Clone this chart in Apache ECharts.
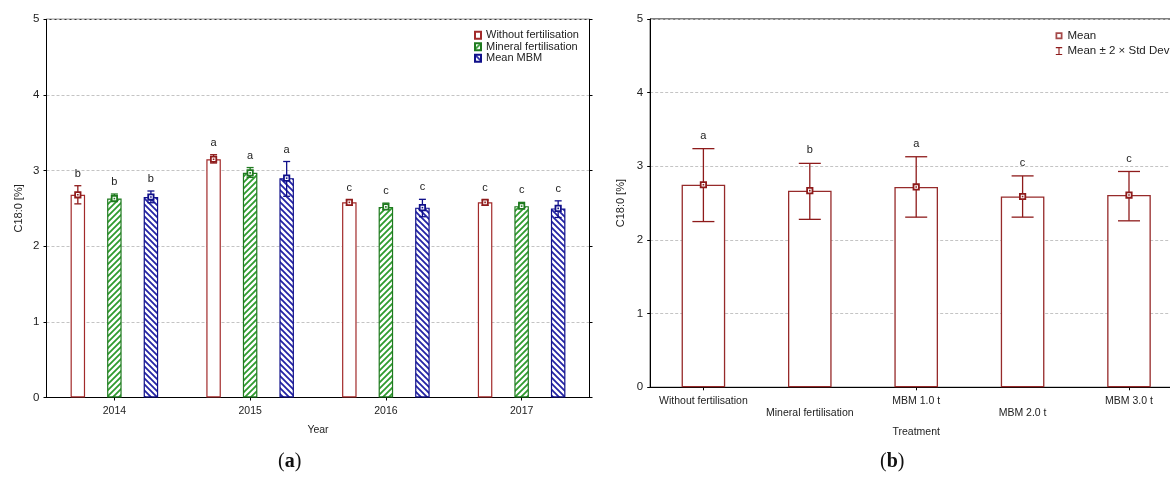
<!DOCTYPE html>
<html>
<head>
<meta charset="utf-8">
<script src="https://cdn.jsdelivr.net/npm/echarts@6/dist/echarts.min.js"></script>
<style>
  html, body { margin: 0; padding: 0; background: #fff; overflow: hidden; }
  #chart { width: 1200px; height: 477px; }
</style>
</head>
<body>
<div id="chart"></div>
<script>
// ---- Panel (a): C18:0 by year and fertilisation ----
const years = ['2014', '2015', '2016', '2017'];
const withoutMean = [2.68, 3.15, 2.58, 2.58];
const withoutLow  = [2.56, 3.10, 2.54, 2.54];
const withoutHigh = [2.80, 3.21, 2.61, 2.61];
const mineralMean = [2.63, 2.97, 2.52, 2.53];
const mineralLow  = [2.60, 2.91, 2.49, 2.51];
const mineralHigh = [2.69, 3.04, 2.57, 2.58];
const mbmMean = [2.65, 2.90, 2.51, 2.50];
const mbmLow  = [2.575, 2.66, 2.39, 2.38];
const mbmHigh = [2.73, 3.12, 2.62, 2.60];
const yearLetters = ['b', 'a', 'c', 'c'];

// ---- Panel (b): C18:0 by treatment ----
const treatments = ['Without fertilisation', 'Mineral fertilisation', 'MBM 1.0 t', 'MBM 2.0 t', 'MBM 3.0 t'];
const treatMean = [2.75, 2.67, 2.72, 2.59, 2.61];
const treatLow  = [2.25, 2.28, 2.31, 2.31, 2.26];
const treatHigh = [3.24, 3.04, 3.13, 2.87, 2.93];
const treatLetters = ['a', 'b', 'a', 'c', 'c'];

// shared value axis
const yMin = 0, yMax = 5, yStep = 1;

const FONT = '"Liberation Sans", Arial, sans-serif';
const RED = '#8e1b1b', GREEN = '#1f7a1f', BLUE = '#10108a';
const BAR_W_A = 14.5, BAR_GAP_A = 1.52;
const SLOT_A = BAR_W_A * (1 + BAR_GAP_A);

function hatch(color, dir) {
  const s = 6;
  const c = document.createElement('canvas');
  c.width = s; c.height = s;
  const g = c.getContext('2d');
  g.fillStyle = '#ffffff';
  g.fillRect(0, 0, s, s);
  g.strokeStyle = color;
  g.lineWidth = 1.8;
  g.beginPath();
  if (dir > 0) {
    g.moveTo(-1, s + 1); g.lineTo(s + 1, -1);
    g.moveTo(-1, 1); g.lineTo(1, -1);
    g.moveTo(s - 1, s + 1); g.lineTo(s + 1, s - 1);
  } else {
    g.moveTo(-1, -1); g.lineTo(s + 1, s + 1);
    g.moveTo(s - 1, -1); g.lineTo(s + 1, 1);
    g.moveTo(-1, s - 1); g.lineTo(1, s + 1);
  }
  g.stroke();
  return c;
}

// error bar + mean marker + letter, drawn on top of the bars
function errorLayer(name, gridIdx, mean, low, high, letters, color, offset, capHalf, letterGap, legendName) {
  return {
    type: 'custom',
    name: legendName || name,
    xAxisIndex: gridIdx * 2,
    yAxisIndex: gridIdx * 2,
    z: 5,
    itemStyle: { color: color },
    encode: { x: 0, y: [1, 2, 3] },
    data: mean.map((m, i) => [i, m, low[i], high[i], letters[i]]),
    renderItem: function (params, api) {
      const i = api.value(0);
      const pm = api.coord([i, api.value(1)]);
      const x = pm[0] + offset;
      const ym = pm[1];
      const yl = api.coord([i, api.value(2)])[1];
      const yh = api.coord([i, api.value(3)])[1];
      const line = { stroke: color, lineWidth: 1.3 };
      return {
        type: 'group',
        children: [
          { type: 'line', shape: { x1: x, y1: yl, x2: x, y2: yh }, style: line },
          { type: 'line', shape: { x1: x - capHalf, y1: yh, x2: x + capHalf, y2: yh }, style: line },
          { type: 'line', shape: { x1: x - capHalf, y1: yl, x2: x + capHalf, y2: yl }, style: line },
          { type: 'rect', shape: { x: x - 2.7, y: ym - 2.7, width: 5.4, height: 5.4 },
            style: { fill: '#ffffff', stroke: color, lineWidth: 1.8 } },
          { type: 'rect', shape: { x: x - 0.8, y: ym - 0.8, width: 1.6, height: 1.6 },
            style: { fill: color } },
          { type: 'text', x: x, y: yh - letterGap,
            style: { text: api.value(4), fill: '#222', font: '11px ' + FONT,
                     align: 'center', verticalAlign: 'middle' } }
        ]
      };
    }
  };
}

function valueAxes(gridIdx) {
  const common = { type: 'value', gridIndex: gridIdx, min: yMin, max: yMax, interval: yStep };
  return [
    Object.assign({}, common, {
      position: 'left',
      name: 'C18:0 [%]',
      nameLocation: 'middle',
      nameRotate: 90,
      nameGap: gridIdx === 0 ? 22 : 23.5,
      nameTextStyle: { fontFamily: FONT, fontSize: 11, color: '#222' },
      axisLine: { show: true, lineStyle: { color: '#000', width: 1 } },
      axisTick: { show: true, length: 3, lineStyle: { color: '#000' } },
      axisLabel: { fontFamily: FONT, fontSize: 11.5, color: '#222', margin: 7 },
      splitLine: { show: true, lineStyle: { color: '#c4c4c4', type: [3, 2], width: 1 } }
    }),
    Object.assign({}, common, {
      position: 'right',
      axisLine: { show: true, lineStyle: { color: '#000', width: 1 } },
      axisTick: { show: true, length: 3, lineStyle: { color: '#000' } },
      axisLabel: { show: false },
      splitLine: { show: false }
    })
  ];
}

function categoryAxes(gridIdx, cats, name, nameGap, staggered) {
  return [
    {
      type: 'category', gridIndex: gridIdx, data: cats, position: 'bottom',
      name: name, nameLocation: 'middle', nameGap: nameGap,
      nameTextStyle: { fontFamily: FONT, fontSize: 10.5, color: '#222' },
      axisLine: { show: true, lineStyle: { color: '#000', width: 1 } },
      axisTick: { show: true, inside: true, length: 3, alignWithLabel: true, lineStyle: { color: '#000' } },
      axisLabel: {
        interval: 0, fontFamily: FONT, fontSize: 10.5, color: '#222', margin: 7.5, lineHeight: 12.5,
        formatter: staggered ? function (v, i) { return i % 2 ? '\n' + v : v; } : '{value}'
      },
      splitLine: { show: false }
    },
    {
      type: 'category', gridIndex: gridIdx, data: cats, position: 'top',
      axisLine: { show: true, lineStyle: { color: '#000', width: 1 } },
      axisTick: { show: true, inside: true, length: 3, alignWithLabel: true, lineStyle: { color: '#000' } },
      axisLabel: { show: false },
      splitLine: { show: false }
    }
  ];
}

const greenHatch = hatch('#2f9b2f', 1);
const blueHatch = hatch('#2424a6', -1);

const barA = (name, values, fill, border) => ({
  type: 'bar', name: name, xAxisIndex: 0, yAxisIndex: 0,
  barWidth: BAR_W_A, barGap: (BAR_GAP_A * 100) + '%',
  itemStyle: { color: fill, borderColor: border, borderWidth: 1.2 },
  data: values
});

const serif = '"Liberation Serif", "DejaVu Serif", serif';
const panelTag = (letter, cx) => ({
  type: 'text', left: cx - 13, top: 452,
  style: {
    text: '{p|(}{b|' + letter + '}{p|)}',
    rich: {
      p: { fontFamily: serif, fontSize: 20, fill: '#111' },
      b: { fontFamily: serif, fontSize: 20, fontWeight: 'bold', fill: '#111' }
    }
  }
});

const option = {
  animation: false,
  backgroundColor: '#ffffff',
  grid: [
    { left: 46.5, top: 19.3, width: 543, height: 378.2, show: true, borderColor: '#000', borderWidth: 1 },
    { left: 650.2, top: 19, width: 532, height: 368.3, show: true, borderColor: '#000', borderWidth: 1 }
  ],
  xAxis: [].concat(
    categoryAxes(0, years, 'Year', 27.5, false),
    categoryAxes(1, treatments, 'Treatment', 39.5, true)
  ),
  yAxis: [].concat(valueAxes(0), valueAxes(1)),
  legend: [
    {
      left: 474, top: 29.8, padding: 0, orient: 'vertical', selectedMode: false,
      icon: 'rect', itemWidth: 6, itemHeight: 7, itemGap: 0.5,
      textStyle: { fontFamily: FONT, fontSize: 11, color: '#222', lineHeight: 11 },
      data: ['Without fertilisation', 'Mineral fertilisation', 'Mean MBM']
    },
    {
      left: 1055.5, top: 29.8, padding: 0, orient: 'vertical', selectedMode: false,
      itemWidth: 7, itemHeight: 8, itemGap: 3.3,
      textStyle: { fontFamily: FONT, fontSize: 11.5, color: '#222', lineHeight: 11 },
      data: [
        { name: 'Mean', icon: 'path://M0,0H10V10H0Z M2.5,2.5V7.5H7.5V2.5Z' },
        { name: 'Mean ± 2 × Std Dev', icon: 'path://M0,0H8V1.4H4.7V8.6H8V10H0V8.6H3.3V1.4H0Z' }
      ]
    }
  ],
  series: [
    barA('Without fertilisation', withoutMean, '#ffffff', '#a22a2a'),
    barA('Mineral fertilisation', mineralMean, { image: greenHatch, repeat: 'repeat' }, GREEN),
    barA('Mean MBM', mbmMean, { image: blueHatch, repeat: 'repeat' }, BLUE),
    errorLayer('err-without', 0, withoutMean, withoutLow, withoutHigh, yearLetters, RED, -SLOT_A, 3.5, 12),
    errorLayer('err-mineral', 0, mineralMean, mineralLow, mineralHigh, yearLetters, GREEN, 0, 3.5, 12),
    errorLayer('err-mbm', 0, mbmMean, mbmLow, mbmHigh, yearLetters, BLUE, SLOT_A, 3.5, 12),
    {
      type: 'bar', name: 'Treatment mean', xAxisIndex: 2, yAxisIndex: 2,
      barWidth: 43.6,
      itemStyle: { color: '#ffffff', borderColor: '#962a2a', borderWidth: 1.3 },
      data: treatMean
    },
    errorLayer('err-treat', 1, treatMean, treatLow, treatHigh, treatLetters, RED, 0, 11, 13, 'Mean ± 2 × Std Dev'),
    {
      type: 'scatter', name: 'Mean', xAxisIndex: 2, yAxisIndex: 2,
      symbol: 'rect', symbolSize: 0.01, silent: true,
      itemStyle: { color: RED }, data: []
    }
  ],
  graphic: [panelTag('a', 291), panelTag('b', 893)]
};

const chart = echarts.init(document.getElementById('chart'), null, { renderer: 'canvas' });
chart.setOption(option);
</script>
</body>
</html>
